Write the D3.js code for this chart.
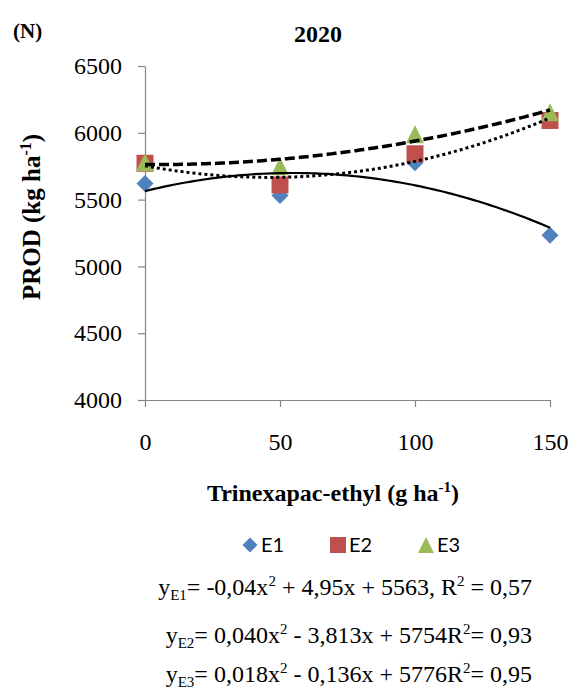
<!DOCTYPE html>
<html>
<head>
<meta charset="utf-8">
<script src="https://cdn.jsdelivr.net/npm/d3@7"></script>
<style>
  body { margin: 0; background: #fff; }
  svg { display: block; }
  .serif { font-family: "Liberation Serif", "Times New Roman", Tinos, Times, "DejaVu Serif", serif; }
  .axis path, .axis line { stroke: #868686; stroke-width: 1.2; }
  .axis text { font-family: "Liberation Serif", "Times New Roman", Tinos, Times, "DejaVu Serif", serif; font-size: 24px; fill: #000; }
</style>
</head>
<body>
<div id="chart"></div>
<script>
  // data
  const doses = [0, 50, 100, 150];
  const seriesNames = ['E1', 'E2', 'E3'];
  const e1 = [5620, 5530, 5775, 5234];
  const e2 = [5772, 5610, 5843, 6092];
  const e3 = [5780, 5750, 5990, 6153];
  const yTicks = [4000, 4500, 5000, 5500, 6000, 6500];
  const xTicks = [0, 50, 100, 150];
  const colors = ['#4F81BD', '#C0504D', '#9BBB59'];

  // equation labels as printed (text / sub / sup pieces)
  const eqE1 = [['y'], ['E1', 'sub'], ['= -0,04x'], ['2', 'sup'], [' + 4,95x + 5563, R'], ['2', 'sup'], [' = 0,57']];
  const eqE2 = [['y'], ['E2', 'sub'], ['= 0,040x'], ['2', 'sup'], [' - 3,813x + 5754R'], ['2', 'sup'], ['= 0,93']];
  const eqE3 = [['y'], ['E3', 'sub'], ['= 0,018x'], ['2', 'sup'], [' - 0,136x + 5776R'], ['2', 'sup'], ['= 0,95']];

  const W = 571, H = 687;
  const margin = {top: 66, left: 145};
  const plotW = 405, plotH = 334;

  const svg = d3.select('#chart').append('svg')
    .attr('width', W)
    .attr('height', H);

  const x = d3.scaleLinear().domain([0, 150]).range([margin.left, margin.left + plotW]);
  const y = d3.scaleLinear().domain([4000, 6500]).range([margin.top + plotH, margin.top]);

  // axes
  svg.append('g')
    .attr('class', 'axis')
    .attr('transform', `translate(${margin.left},0)`)
    .call(d3.axisLeft(y).tickValues(yTicks).tickSize(7).tickSizeOuter(0).tickPadding(16).tickFormat(d3.format('d')));

  svg.append('g')
    .attr('class', 'axis')
    .attr('transform', `translate(0,${margin.top + plotH})`)
    .call(d3.axisBottom(x).tickValues(xTicks).tickSize(7).tickSizeOuter(0).tickPadding(26).tickFormat(d3.format('d')));

  // quadratic least squares, like the spreadsheet trendline
  function polyfit2(xs, ys) {
    let s = [0, 0, 0, 0, 0], t = [0, 0, 0];
    xs.forEach((xv, i) => {
      for (let k = 0; k < 5; k++) s[k] += Math.pow(xv, k);
      for (let k = 0; k < 3; k++) t[k] += Math.pow(xv, k) * ys[i];
    });
    const A = [[s[0], s[1], s[2], t[0]], [s[1], s[2], s[3], t[1]], [s[2], s[3], s[4], t[2]]];
    for (let c = 0; c < 3; c++) {
      for (let r = c + 1; r < 3; r++) {
        const f = A[r][c] / A[c][c];
        for (let k = c; k < 4; k++) A[r][k] -= f * A[c][k];
      }
    }
    const b = [0, 0, 0];
    for (let r = 2; r >= 0; r--) {
      let v = A[r][3];
      for (let k = r + 1; k < 3; k++) v -= A[r][k] * b[k];
      b[r] = v / A[r][r];
    }
    return xv => b[0] + b[1] * xv + b[2] * xv * xv;
  }

  // marker shapes (excel style)
  const diamond = {draw(ctx, size) {
    const r = Math.sqrt(size) / 2;
    ctx.moveTo(0, -r); ctx.lineTo(r, 0); ctx.lineTo(0, r); ctx.lineTo(-r, 0); ctx.closePath();
  }};
  const square = {draw(ctx, size) {
    const r = Math.sqrt(size) / 2;
    ctx.rect(-r, -r, 2 * r, 2 * r);
  }};
  const triangle = {draw(ctx, size) {
    const r = Math.sqrt(size) / 2;
    ctx.moveTo(0, -r); ctx.lineTo(r, r); ctx.lineTo(-r, r); ctx.closePath();
  }};
  const shapes = [diamond, square, triangle];
  const sizes = [17 * 17, 17 * 17, 18 * 18];
  const dashes = [null, '3 3', '10 4'];
  const widths = [2.2, 3, 3.5];

  const allSeries = [e1, e2, e3];

  const pts = svg.append('g');
  allSeries.forEach((vals, si) => {
    pts.selectAll(null)
      .data(vals.map((v, i) => ({x: doses[i], y: v})))
      .enter().append('path')
      .attr('d', d3.symbol().type(shapes[si]).size(sizes[si]))
      .attr('transform', d => `translate(${x(d.x)},${y(d.y)})`)
      .attr('fill', colors[si]);
  });

  // trendlines drawn on top of the markers
  const lineGen = d3.line().x(d => x(d[0])).y(d => y(d[1]));
  allSeries.forEach((vals, si) => {
    const f = polyfit2(doses, vals);
    const curve = d3.range(0, 150.01, 1.5).map(xv => [xv, f(xv)]);
    svg.append('path')
      .datum(curve)
      .attr('d', lineGen)
      .attr('fill', 'none')
      .attr('stroke', '#000')
      .attr('stroke-width', widths[si])
      .attr('stroke-dasharray', dashes[si]);
  });

  // titles
  svg.append('text')
    .attr('class', 'serif')
    .attr('x', 13).attr('y', 38)
    .style('font-weight', 'bold')
    .style('font-size', '21px')
    .text('(N)');

  svg.append('text')
    .attr('class', 'serif')
    .attr('x', 318).attr('y', 42)
    .attr('text-anchor', 'middle')
    .style('font-weight', 'bold')
    .style('font-size', '24px')
    .text('2020');

  const xTitle = svg.append('text')
    .attr('class', 'serif')
    .attr('x', 333).attr('y', 501)
    .attr('text-anchor', 'middle')
    .style('font-weight', 'bold')
    .style('font-size', '24px');
  xTitle.append('tspan').text('Trinexapac-ethyl (g ha');
  xTitle.append('tspan').attr('dy', -9).style('font-size', '15px').text('-1');
  xTitle.append('tspan').attr('dy', 9).text(')');

  const yTitle = svg.append('text')
    .attr('class', 'serif')
    .attr('transform', 'translate(40,217) rotate(-90)')
    .attr('text-anchor', 'middle')
    .style('font-weight', 'bold')
    .style('font-size', '25px');
  yTitle.append('tspan').text('PROD (kg ha');
  yTitle.append('tspan').attr('dy', -9).style('font-size', '16px').text('-1');
  yTitle.append('tspan').attr('dy', 9).text(')');

  // legend
  const legendX = [250, 338, 426];
  const leg = svg.append('g');
  seriesNames.forEach((name, i) => {
    leg.append('path')
      .attr('d', d3.symbol().type(shapes[i]).size(i === 0 ? 15 * 15 : 16 * 16))
      .attr('transform', `translate(${legendX[i]},545)`)
      .attr('fill', colors[i]);
    leg.append('text')
      .attr('x', legendX[i] + 11).attr('y', 552)
      .style('font-family', 'Lato, sans-serif')
      .style('font-size', '20px')
      .text(name);
  });

  // equations, right-aligned like the reference
  const eqs = [eqE1, eqE2, eqE3];
  const eqY = [595, 643, 682];
  eqs.forEach((parts, i) => {
    const t = svg.append('text')
      .attr('class', 'serif')
      .attr('x', 532).attr('y', eqY[i])
      .attr('text-anchor', 'end')
      .style('font-size', '24px');
    let shift = 0;
    parts.forEach(p => {
      let dy = 0, fs = '24px';
      if (p[1] === 'sub') { dy = 5; fs = '15px'; }
      if (p[1] === 'sup') { dy = -9; fs = '15px'; }
      t.append('tspan')
        .attr('dy', dy - shift)
        .style('font-size', fs)
        .text(p[0]);
      shift = dy;
    });
  });
</script>
</body>
</html>
